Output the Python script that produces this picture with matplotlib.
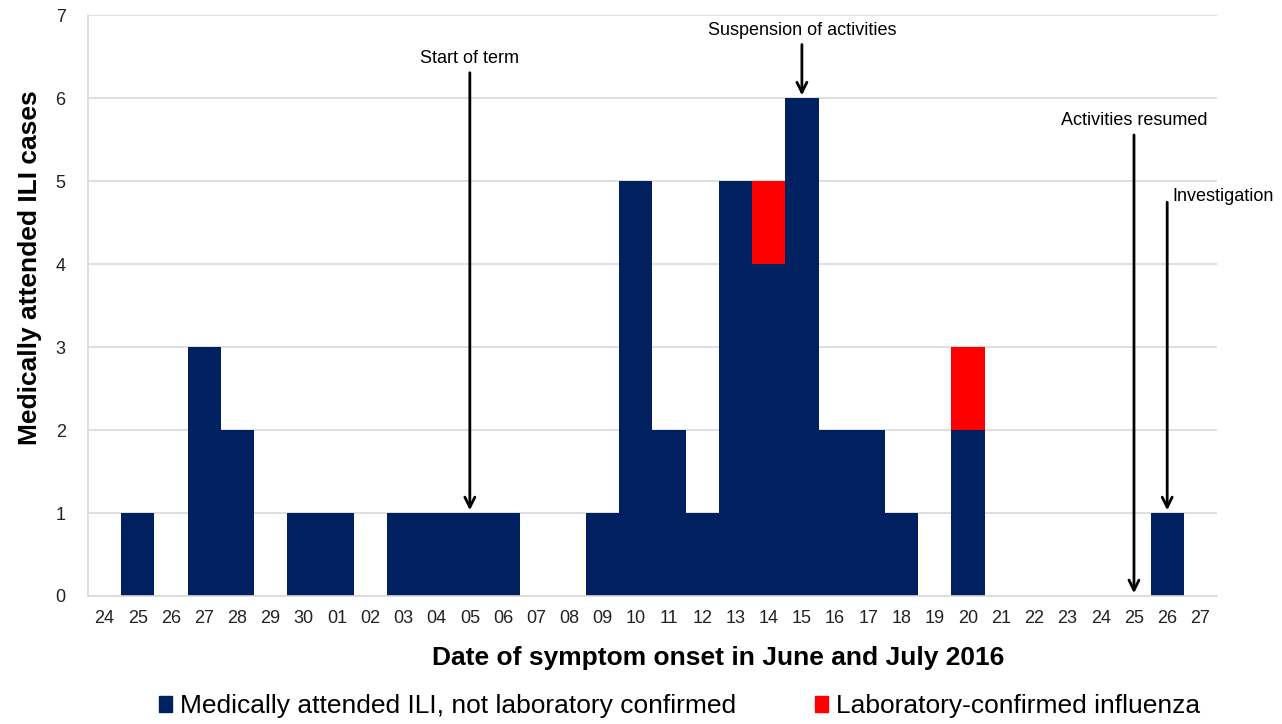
import numpy as np
import matplotlib.pyplot as plt
import matplotlib.patches as mpatches

plt.rcParams["font.family"] = ["Liberation Sans", "DejaVu Sans"]

days = ["24", "25", "26", "27", "28", "29", "30", "01", "02", "03", "04", "05",
        "06", "07", "08", "09", "10", "11", "12", "13", "14", "15", "16", "17",
        "18", "19", "20", "21", "22", "23", "24", "25", "26", "27"]
not_confirmed = [0, 1, 0, 3, 2, 0, 1, 1, 0, 1, 1, 1,
                 1, 0, 0, 1, 5, 2, 1, 5, 4, 6, 2, 2,
                 1, 0, 2, 0, 0, 0, 0, 0, 1, 0]
lab_confirmed = [0, 0, 0, 0, 0, 0, 0, 0, 0, 0, 0, 0,
                 0, 0, 0, 0, 0, 0, 0, 0, 1, 0, 0, 0,
                 0, 0, 1, 0, 0, 0, 0, 0, 0, 0]

# events: (label, day index, text y, arrow start y, arrow end y)
events = [
    ("Start of term", 11, 6.48, 6.34, 1.0),
    ("Suspension of activities", 21, 6.82, 6.68, 6.0),
    ("Activities resumed", 31, 5.73, 5.59, 0.0),
    ("Investigation", 32, 4.81, 4.78, 1.0),
]

navy = "#002060"
red = "#FF0000"

fig = plt.figure(figsize=(12.82, 7.24), dpi=100)
ax = fig.add_axes([0.0686, 0.1768, 0.8807, 0.8022])

x = np.arange(len(days))
ax.bar(x, not_confirmed, width=1.0, color=navy, zorder=2)
ax.bar(x, lab_confirmed, width=1.0, bottom=not_confirmed, color=red, zorder=2)

ax.set_xlim(-0.5, len(days) - 0.5)
ax.set_ylim(0, 7)
ax.set_yticks(range(0, 8))
ax.set_xticks(x)
ax.set_xticklabels(days)
ax.tick_params(axis="both", length=0, labelsize=13, colors="#222222")
ax.tick_params(axis="x", pad=10)
ax.tick_params(axis="y", pad=16)
ax.grid(axis="y", color="#d9d9d9", linewidth=1.2, zorder=0)
for side in ["top", "right"]:
    ax.spines[side].set_visible(False)
for side in ["left", "bottom"]:
    ax.spines[side].set_color("#d9d9d9")
    ax.spines[side].set_linewidth(1.2)

ax.set_ylabel("Medically attended ILI cases", fontsize=19, fontweight="bold", labelpad=10)
ax.set_xlabel("Date of symptom onset in June and July 2016", fontsize=19,
              fontweight="bold", labelpad=14)
ax.xaxis.label.set_x(0.558)
ax.yaxis.label.set_y(0.565)

for label, idx, ty, y0, y1 in events:
    ax.annotate("", xy=(idx, y1), xytext=(idx, y0),
                arrowprops=dict(arrowstyle="->", color="black", lw=2,
                                mutation_scale=18), zorder=4)
    if label == "Investigation":
        ax.text(idx + 0.15, ty, label, fontsize=13, ha="left", va="center")
    else:
        ax.text(idx, ty, label, fontsize=13, ha="center", va="center")

handles = [
    mpatches.Patch(color=navy, label="Medically attended ILI, not laboratory confirmed"),
    mpatches.Patch(color=red, label="Laboratory-confirmed influenza"),
]
fig.legend(handles=handles, loc="lower center", ncol=2, fontsize=19, frameon=False,
           bbox_to_anchor=(0.53, -0.025), handlelength=0.5, handleheight=0.5,
           handletextpad=0.3, columnspacing=3.0)

plt.savefig("out.png", dpi=100)
